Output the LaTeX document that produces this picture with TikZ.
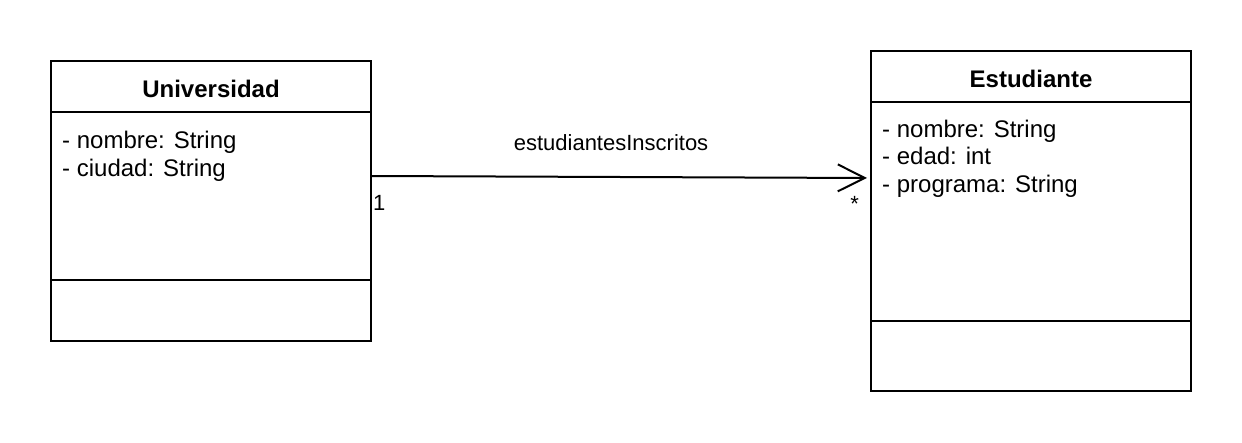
\documentclass[tikz,border=0pt]{standalone}
\usepackage{fontspec}
\setmainfont{Liberation Sans}
\usetikzlibrary{arrows.meta}
\begin{document}
\begin{tikzpicture}[x=1pt,y=-1pt,
  cls/.style={draw=black, line width=2pt, fill=white, minimum width=320pt, inner sep=0pt},
  clstitle/.style={font=\fontsize{24}{28}\selectfont\bfseries, inner sep=0pt, anchor=base},
  attrs/.style={font=\fontsize{24}{27.5}\selectfont, align=left, inner sep=0pt, anchor=base west},
  sep/.style={line width=2pt},
  assoc/.style={line width=2pt, -{Straight Barb[length=27pt,width=27pt]}, shorten >=3pt},
  lbl/.style={font=\fontsize{22}{26}\selectfont, inner sep=0pt}]
\fill[white] (0,0) rectangle (1242,442);
\useasboundingbox (0,0) rectangle (1242,442);
% classes
\node[cls, minimum height=280pt] (U) at (211,201) {};
\node[cls, minimum height=340pt] (E) at (1031,221) {};
% compartments
\draw[sep] (51,112) -- (371,112);
\draw[sep] (51,280) -- (371,280);
\draw[sep] (871,102) -- (1191,102);
\draw[sep] (871,321) -- (1191,321);
% texts
\node[clstitle] (Ut) at (211,97) {Universidad};
\node[clstitle] (Et) at (1031,87) {Estudiante};
\node[attrs] (Ua) at (62,176) {- nombre: String\\- ciudad: String};
\node[attrs] (Ea) at (882,192) {- nombre: String\\- edad: int\\- programa: String};
% association
\draw[assoc] ([yshift=25pt]U.east) -- ([yshift=43pt]E.west)
  node[lbl, pos=0.48, anchor=base, yshift=26pt] (L) {estudiantesInscritos}
  node[lbl, pos=0, anchor=base west, yshift=-34pt] (m1) {1}
  node[lbl, pos=1, anchor=base east, xshift=-10pt, yshift=-33pt] (m2) {*};
\end{tikzpicture}
\end{document}
